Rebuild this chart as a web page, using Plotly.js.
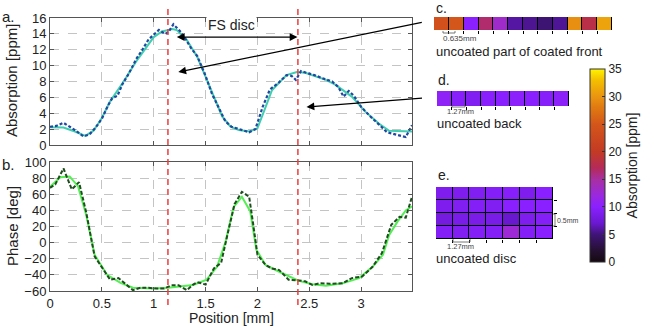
<!DOCTYPE html>
<html>
<head>
<meta charset="utf-8">
<script src="https://cdn.plot.ly/plotly-3.0.1.min.js"></script>
<style>
  body { margin: 0; background: #fff; }
  #chart { width: 654px; height: 330px; }
</style>
</head>
<body>
<div id="chart"></div>
<script>
// absorption scan (a.)
var absFitX = [0, 0.13, 0.24, 0.34, 0.42, 0.5, 0.58, 0.71, 0.84, 1.0, 1.08, 1.18, 1.22, 1.32, 1.42, 1.5, 1.58, 1.66, 1.74, 1.82, 1.92, 2.0, 2.07, 2.14, 2.28, 2.38, 2.46, 2.66, 2.75, 2.91, 3.04, 3.17, 3.27, 3.4, 3.49];
var absFitY = [2.25, 2.2, 1.7, 1.15, 1.8, 3.4, 5.5, 8.0, 10.7, 13.6, 14.3, 14.6, 14.5, 13.2, 11.1, 8.6, 5.9, 3.6, 2.3, 1.9, 1.7, 2.1, 4.5, 6.9, 8.8, 9.2, 9.1, 8.2, 7.6, 6.1, 4.2, 2.7, 1.8, 1.7, 1.7];
var absMeasX = [0, 0.06, 0.13, 0.19, 0.25, 0.32, 0.38, 0.44, 0.5, 0.56, 0.6, 0.65, 0.7, 0.76, 0.83, 0.89, 0.95, 1.0, 1.05, 1.11, 1.14, 1.19, 1.25, 1.3, 1.36, 1.42, 1.5, 1.56, 1.62, 1.69, 1.75, 1.82, 1.92, 1.98, 2.05, 2.12, 2.2, 2.28, 2.33, 2.37, 2.42, 2.47, 2.55, 2.65, 2.72, 2.78, 2.83, 2.88, 2.93, 3.0, 3.08, 3.17, 3.25, 3.34, 3.43, 3.49];
var absMeasY = [2.3, 2.4, 2.8, 2.3, 1.8, 1.1, 1.3, 2.2, 3.3, 5.0, 5.9, 6.2, 7.7, 9.0, 10.8, 12.0, 13.3, 13.9, 14.5, 14.0, 14.2, 15.2, 14.4, 13.5, 12.2, 11.2, 8.7, 6.5, 4.8, 3.0, 2.3, 2.0, 1.6, 2.0, 4.8, 7.0, 7.8, 8.8, 8.7, 8.2, 9.3, 9.1, 8.8, 8.3, 8.0, 7.3, 6.1, 6.8, 6.2, 4.8, 3.7, 2.6, 1.6, 1.3, 1.0, 2.5];

// phase scan (b.)
var phFitX = [0, 0.1, 0.19, 0.27, 0.35, 0.43, 0.55, 0.68, 0.8, 1.0, 1.14, 1.26, 1.38, 1.51, 1.61, 1.69, 1.77, 1.85, 1.93, 1.99, 2.08, 2.24, 2.4, 2.53, 2.66, 2.82, 2.98, 3.11, 3.21, 3.27, 3.35, 3.43, 3.49];
var phFitY = [69, 81, 82, 70, 34, -15, -40, -50, -56, -57, -56, -54.5, -52.5, -46, -30, 0, 44, 57, 39, -9, -28, -38, -47.5, -51.5, -53.5, -50.5, -44, -30, -15, 9.5, 26, 40, 45];
var phMeasX = [0, 0.05, 0.13, 0.21, 0.28, 0.35, 0.43, 0.5, 0.58, 0.66, 0.72, 0.8, 0.87, 0.95, 1.03, 1.1, 1.17, 1.24, 1.32, 1.38, 1.42, 1.5, 1.58, 1.65, 1.72, 1.78, 1.85, 1.92, 1.96, 2.0, 2.08, 2.14, 2.21, 2.3, 2.4, 2.46, 2.53, 2.6, 2.7, 2.82, 2.91, 3.01, 3.11, 3.2, 3.29, 3.37, 3.43, 3.49];
var phMeasY = [68, 72, 92, 66, 75, 37, -17, -30, -46, -44, -50, -59, -56, -56, -57, -57, -53, -53, -59, -52, -49, -52, -32, -25, 15, 48, 63, 57, 22, -15, -28, -32, -34, -46, -47, -48, -52.5, -50.5, -51, -50.5, -44, -42, -30, -13, 22, 32, 31, 57];

// disc edges (mm)
var discEdges = [1.137, 2.39];

// maps (ppm)
var frontCells = [24, 25, 10, 16.5, 13, 6, 5.6, 4.8, 5.7, 29.5, 18, 31];
var backCells = [10.5, 9.6, 9.2, 9.8, 10, 10.2, 10, 9.7, 10.3];
var discCells = [
  [9, 9, 9.2, 9.5, 9.6, 9, 10],
  [9, 9.2, 9.5, 9.2, 10, 10, 10],
  [8, 8.5, 8.6, 8.5, 7, 9, 9.5],
  [9.5, 9.2, 9.5, 9.5, 12.5, 9.5, 10]
];
var cbTicks = [0, 5, 10, 15, 20, 25, 30, 35];

var heat = [[0, '#150a10'], [0.057, '#241030'], [0.143, '#401478'], [0.2, '#6a18d0'],
  [0.286, '#8a20ff'], [0.343, '#9a28e0'], [0.429, '#a830a0'], [0.486, '#b42a5a'],
  [0.571, '#c33a24'], [0.714, '#d4561a'], [0.8, '#e07a10'], [0.857, '#ea9510'],
  [0.943, '#f4c000'], [1, '#fff400']];

// pixel -> paper helpers (plot area: l50 r10 t10 b39)
function px(x) { return (x - 50) / 594; }
function py(y) { return (291 - y) / 281; }

var data = [
  {x: absFitX, y: absFitY, type: 'scatter', mode: 'lines', xaxis: 'x', yaxis: 'y',
   line: {color: '#3fcfb0', width: 2}},
  {x: absMeasX, y: absMeasY, type: 'scatter', mode: 'lines', xaxis: 'x', yaxis: 'y',
   line: {color: '#2048a0', width: 2.2, dash: '3px,2px'}},
  {x: phFitX, y: phFitY, type: 'scatter', mode: 'lines', xaxis: 'x2', yaxis: 'y2',
   line: {color: '#55ee55', width: 2}},
  {x: phMeasX, y: phMeasY, type: 'scatter', mode: 'lines', xaxis: 'x2', yaxis: 'y2',
   line: {color: '#1e4d1e', width: 2, dash: '4px,2px'}},
  {z: [frontCells], type: 'heatmap', xaxis: 'x3', yaxis: 'y3', xgap: 1,
   zmin: 0, zmax: 35, colorscale: heat, showscale: true,
   colorbar: {x: px(590), xanchor: 'left', xpad: 0, thickness: 15, thicknessmode: 'pixels',
     len: 193, lenmode: 'pixels', y: py(165.5), yanchor: 'middle', ypad: 0,
     tickvals: cbTicks, ticks: 'inside', ticklen: 3, tickcolor: '#333',
     outlinewidth: 1, outlinecolor: '#333', tickfont: {size: 12, color: '#222'},
     title: {text: 'Absorption [ppm]', side: 'right', font: {size: 14, color: '#222'}}}},
  {z: [backCells], type: 'heatmap', xaxis: 'x4', yaxis: 'y4', xgap: 1,
   zmin: 0, zmax: 35, colorscale: heat, showscale: false},
  {z: discCells, type: 'heatmap', xaxis: 'x5', yaxis: 'y5', xgap: 1, ygap: 1,
   zmin: 0, zmax: 35, colorscale: heat, showscale: false}
];

var mainAx = {
  showline: true, linecolor: '#555', linewidth: 1, mirror: 'ticks',
  ticks: 'inside', ticklen: 4, tickcolor: '#555',
  gridcolor: '#c4c4c4', griddash: 'dash', zeroline: false,
  tickfont: {size: 13, color: '#222'}
};
function ax(extra) { return Object.assign({}, mainAx, extra); }

function cellAx(dom, n, anchor, extra) {
  var tv = [];
  for (var i = 0; i < n - 1; i++) tv.push(i + 0.5);
  return Object.assign({domain: dom, anchor: anchor, range: [-0.5, n - 0.5],
    showgrid: false, zeroline: false, showline: false, showticklabels: false,
    tickvals: tv, ticks: 'outside', ticklen: 3, tickcolor: '#000', tickwidth: 1}, extra || {});
}

var mainDom = [0, px(412)];

function bracket(pts) {
  return {type: 'path', xref: 'paper', yref: 'paper', line: {color: '#555', width: 0.8},
    path: pts.map(function (p, i) { return (i ? 'L' : 'M') + px(p[0]) + ',' + py(p[1]); }).join(' ')};
}

function label(text, x, y, size, extra) {
  return Object.assign({text: text, xref: 'paper', yref: 'paper', x: px(x), y: py(y),
    xanchor: 'left', yanchor: 'middle', showarrow: false, font: {size: size}}, extra || {});
}

var layout = {
  width: 654, height: 330,
  margin: {l: 50, r: 10, t: 10, b: 39},
  paper_bgcolor: '#fff', plot_bgcolor: '#fff',
  font: {family: 'Liberation Sans, Arial, sans-serif', color: '#222'},
  showlegend: false,
  xaxis: ax({domain: mainDom, anchor: 'y', range: [0, 3.49], dtick: 0.5, showticklabels: false}),
  yaxis: ax({domain: [py(145), py(18)], anchor: 'x', range: [0, 16], dtick: 2}),
  xaxis2: ax({domain: mainDom, anchor: 'y2', range: [0, 3.49], dtick: 0.5}),
  yaxis2: ax({domain: [py(291), py(162)], anchor: 'x2', range: [-60, 100], dtick: 20}),
  xaxis3: cellAx([px(434), px(612)], frontCells.length, 'y3'),
  yaxis3: cellAx([py(30), py(17)], 1, 'x3', {ticks: ''}),
  xaxis4: cellAx([px(437), px(569)], backCells.length, 'y4'),
  yaxis4: cellAx([py(106), py(91)], 1, 'x4', {ticks: ''}),
  xaxis5: cellAx([px(436), px(553)], discCells[0].length, 'y5'),
  yaxis5: cellAx([py(239), py(187)], discCells.length, 'x5', {side: 'right', range: [discCells.length - 0.5, -0.5]}),
  shapes: [
    {type: 'rect', xref: 'x3 domain', yref: 'y3 domain', x0: 0, x1: 1, y0: 0, y1: 1, fillcolor: '#000', line: {width: 0}, layer: 'below'},
    {type: 'rect', xref: 'x4 domain', yref: 'y4 domain', x0: 0, x1: 1, y0: 0, y1: 1, fillcolor: '#000', line: {width: 0}, layer: 'below'},
    {type: 'rect', xref: 'x5 domain', yref: 'y5 domain', x0: 0, x1: 1, y0: 0, y1: 1, fillcolor: '#000', line: {width: 0}, layer: 'below'},
    // scale bars
    bracket([[443, 31], [443, 33], [455, 33], [455, 31]]),
    bracket([[452, 105], [452, 107], [465, 107], [465, 105]]),
    bracket([[453, 239], [453, 242], [470, 242], [470, 239]]),
    bracket([[553, 214], [555, 214], [555, 226], [553, 226]])
  ],
  annotations: [
    label('a.', 0, 16, 15),
    label('b.', 0, 164, 15),
    label('Absorption [ppm]', 12, 81, 15, {xanchor: 'center', textangle: -90}),
    label('Phase [deg]', 12, 226, 15, {xanchor: 'center', textangle: -90}),
    label('Position [mm]', 231, 318, 14, {xanchor: 'center'}),
    {text: 'FS disc', xref: 'x', yref: 'y', x: 1.749, y: 15.1, xanchor: 'center', yanchor: 'middle',
     showarrow: false, bgcolor: '#fff', font: {size: 14}},
    {text: '', xref: 'x', yref: 'y', x: 2.386, y: 13.6, axref: 'x', ayref: 'y', ax: 1.208, ay: 13.6,
     showarrow: true, arrowhead: 2, arrowside: 'end+start', arrowsize: 1.3, arrowwidth: 1.2, arrowcolor: '#000', standoff: 0, startstandoff: 0},
    {text: '', xref: 'x', yref: 'y', x: 1.237, y: 9.19, ax: 245, ay: -50,
     showarrow: true, arrowhead: 2, arrowsize: 1.3, arrowwidth: 1.2, arrowcolor: '#000', standoff: 0},
    {text: '', xref: 'x', yref: 'y', x: 2.473, y: 4.79, ax: 117, ay: -9,
     showarrow: true, arrowhead: 2, arrowsize: 1.3, arrowwidth: 1.2, arrowcolor: '#000', standoff: 0},
    label('c.', 434, 8, 14),
    label('d.', 436, 80, 14),
    label('e.', 436, 175, 14),
    label('uncoated part of coated front', 434, 52, 13),
    label('uncoated back', 435, 123, 13),
    label('uncoated disc', 434, 258, 13),
    label('0.635mm', 441, 38, 8, {font: {size: 8, color: '#444'}}),
    label('1.27mm', 445, 111.5, 7.5, {font: {size: 7.5, color: '#444'}}),
    label('1.27mm', 445, 246, 7.5, {font: {size: 7.5, color: '#444'}}),
    label('0.5mm', 555, 220, 7, {font: {size: 7, color: '#444'}})
  ]
};

layout.shapes = layout.shapes.concat(discEdges.map(function (d) {
  return {type: 'line', xref: 'x', yref: 'paper', x0: d, x1: d, y0: py(305), y1: py(8),
    line: {color: '#f03c3c', width: 1.5, dash: '6px,4px'}};
}));

Plotly.newPlot('chart', data, layout, {displayModeBar: false, staticPlot: true});
</script>
</body>
</html>
